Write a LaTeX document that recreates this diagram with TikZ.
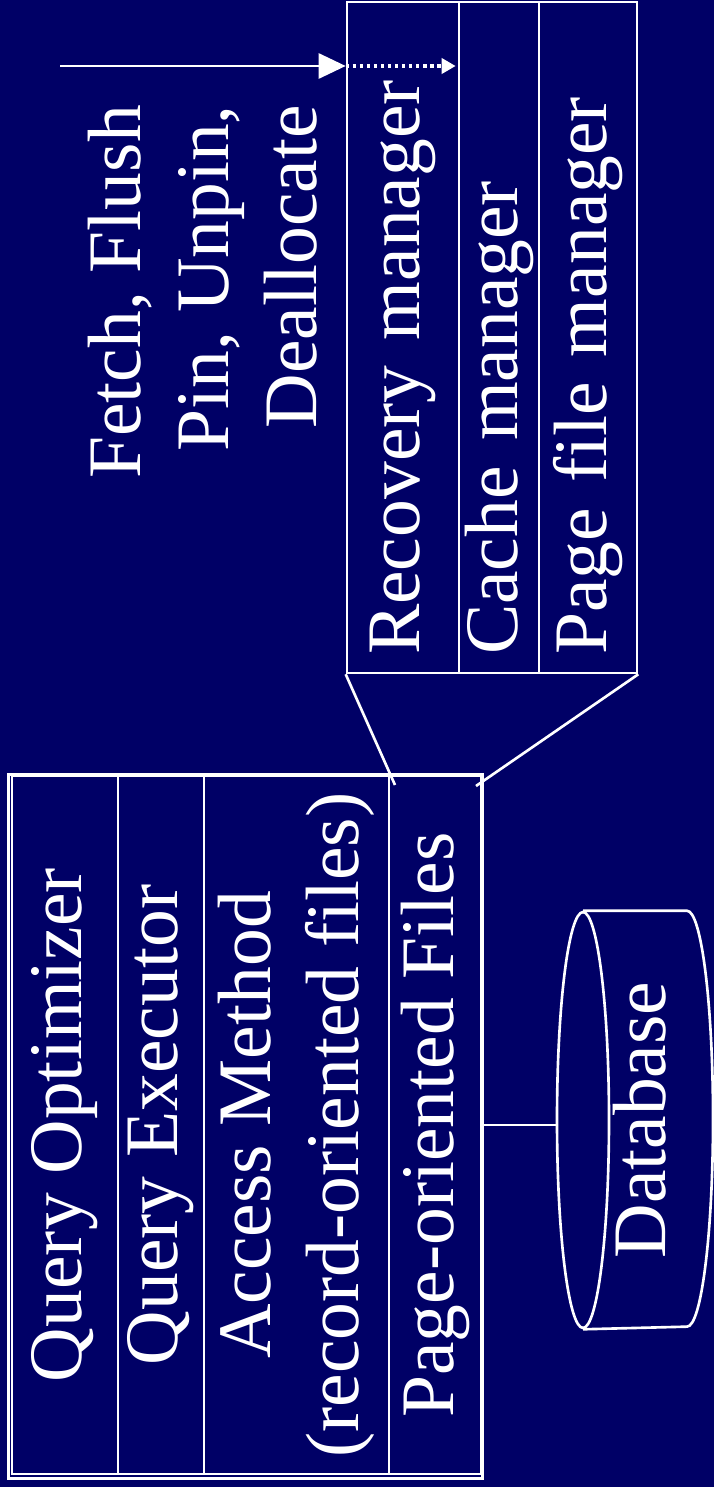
\documentclass[tikz,border=0pt]{standalone}
\usepackage{fontspec}
\setmainfont{Liberation Serif}
\usepackage{tikz}
\usetikzlibrary{arrows.meta, shapes.geometric, calc}
\definecolor{slidenavy}{RGB}{0, 0, 102}

\begin{document}
\begin{tikzpicture}[
  x=0.02cm, y=-0.02cm,
  color=white,
  big/.style={font=\fontsize{43}{50}\selectfont},
  cell/.style={draw=white, line width=1.5pt, rotate=90, big, text=white,
    align=center, inner sep=0pt},
  lcell/.style={cell, align=left, inner xsep=0.36cm, text width=12.7cm,
    minimum width=13.42cm},
  wire/.style={draw=white, line width=1.5pt},
  bigarrow/.style={-{Triangle[length=0.54cm, width=0.5cm]}, line width=1.6pt},
  dotarrow/.style={-{Triangle[length=0.28cm, width=0.3cm]}, line width=2pt,
    dash pattern=on 2pt off 2pt}
]
\useasboundingbox (0,0) rectangle (714,1487);
\fill[slidenavy] (0,0) rectangle (714,1487);

% Layered stack
\node[cell, minimum width=13.96cm, minimum height=2.12cm] (qopt) at (65,1125) {Query Optimizer};
\node[cell, minimum width=13.96cm, minimum height=1.72cm] (qexec) at (161,1125) {Query Executor};
\node[cell, minimum width=13.96cm, minimum height=3.7cm] (access) at (296.5,1125) {Access Method\\(record-oriented files)};
\node[cell, minimum width=13.96cm, minimum height=1.84cm] (pagefiles) at (435,1125) {Page-oriented Files};
\draw[wire] ($(qopt.north west)+(-2,3)$) rectangle (pagefiles.south east);

% Expanded page layer
\node[lcell, minimum height=2.24cm] (recovery) at (403,337.5) {Recovery manager};
\node[lcell, minimum height=1.6cm] (cache) at (499,337.5) {Cache manager};
\node[lcell, minimum height=1.96cm] (pagemgr) at (588,337.5) {Page file manager};

% Zoom lines
\coordinate (zoomleft) at (395,785);
\coordinate (zoomright) at (476,786);
\draw[wire] (recovery.north west) -- (zoomleft);
\draw[wire] (pagemgr.south west) -- (zoomright);

% Calls into the buffer layer
\coordinate (callin) at (60,66);
\draw[bigarrow] (callin) -- (callin -| recovery.north);
\draw[dotarrow] (callin -| recovery.north) -- ($(callin -| cache.north)+(-2,0)$);
\node[big, rotate=90, align=right, inner sep=0pt] (calls) at (203,292)
  {Fetch, Flush\\Pin, Unpin,\\Deallocate};

% Database
\node[ellipse, draw=white, line width=1.5pt, minimum width=1.04cm,
  minimum height=8.32cm, inner sep=0pt] (dbtop) at (583,1120) {};
\draw[wire] (dbtop.north) -- ++(104,0)
  arc[start angle=90, end angle=-90, x radius=0.52cm, y radius=4.16cm]
  -- (dbtop.south);
\node[big, rotate=90, inner sep=0pt] (db) at (640,1120) {Database};
\draw[wire] (pagefiles.south) -- (pagefiles.south -| dbtop.west);

\end{tikzpicture}
\end{document}
